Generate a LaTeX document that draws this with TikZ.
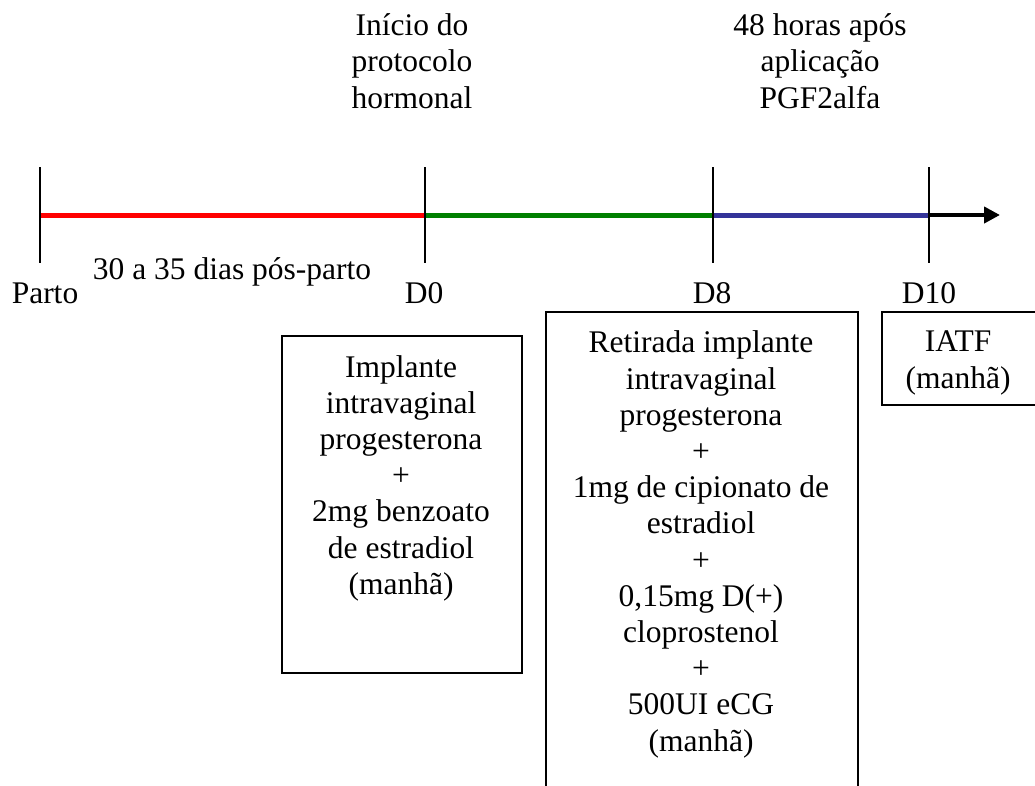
\documentclass[tikz,border=0pt]{standalone}
\usepackage{fontspec}
\setmainfont{Liberation Serif}
\usetikzlibrary{arrows.meta}
\definecolor{tlred}{RGB}{255,0,0}
\definecolor{tlgreen}{RGB}{0,128,0}
\definecolor{tlblue}{RGB}{51,51,153}
\begin{document}
\begin{tikzpicture}[x=1pt,y=-1pt,
  txt/.style={font=\fontsize{31.5}{36.2}\selectfont, inner sep=0pt, align=center, anchor=base},
  tickline/.style={line width=1.5pt},
  seg/.style={line width=5pt},
  boxframe/.style={draw, line width=1.6pt, inner sep=0pt, anchor=north west}]
\path[use as bounding box] (0,0) rectangle (1035,785);
\begin{scope}
\clip (0,0) rectangle (1035,785);
% timeline points
\coordinate (P) at (40,215);
\coordinate (D0) at (425,215);
\coordinate (D8) at (713,215);
\coordinate (D10) at (929,215);
\coordinate (E) at (1000,215);
% segments
\draw[seg, tlred] (P) -- (D0);
\draw[seg, tlgreen] (D0) -- (D8);
\draw[seg, tlblue] (D8) -- (D10);
\draw[line width=4pt, -{Triangle[length=16pt,width=16pt]}] (D10) -- (E);
% ticks
\foreach \c in {P,D0,D8,D10}
  \draw[tickline] ([yshift=48pt]\c) -- ([yshift=-48pt]\c);
% labels (anchor = baseline of the last line)
\node[txt] (inicio) at (412,108) {Início do\\protocolo\\hormonal};
\node[txt] (horas) at (820,108) {48 horas após\\aplicação\\PGF2alfa};
\node[txt] (parto) at (45,303) {Parto};
\node[txt] (dias) at (232,279) {30 a 35 dias pós-parto};
\node[txt] (ld0) at (424,303) {D0};
\node[txt] (ld8) at (712,303) {D8};
\node[txt] (ld10) at (929,303) {D10};
% boxes
\node[boxframe, minimum width=240pt, minimum height=337pt] (b1) at (281,335) {};
\node[boxframe, minimum width=312pt, minimum height=500pt] (b2) at (545,311) {};
\node[boxframe, minimum width=170pt, minimum height=93pt] (b3) at (881,311) {};
\node[txt] (t1) at (401,594.2) {Implante\\intravaginal\\progesterona\\+\\2mg benzoato\\de estradiol\\(manhã)};
\node[txt] (t2) at (701,751) {Retirada implante\\intravaginal\\progesterona\\+\\1mg de cipionato de\\estradiol\\+\\0,15mg D(+)\\cloprostenol\\+\\500UI eCG\\(manhã)};
\node[txt] (t3) at (958,388) {IATF\\(manhã)};
\end{scope}
\end{tikzpicture}
\end{document}
